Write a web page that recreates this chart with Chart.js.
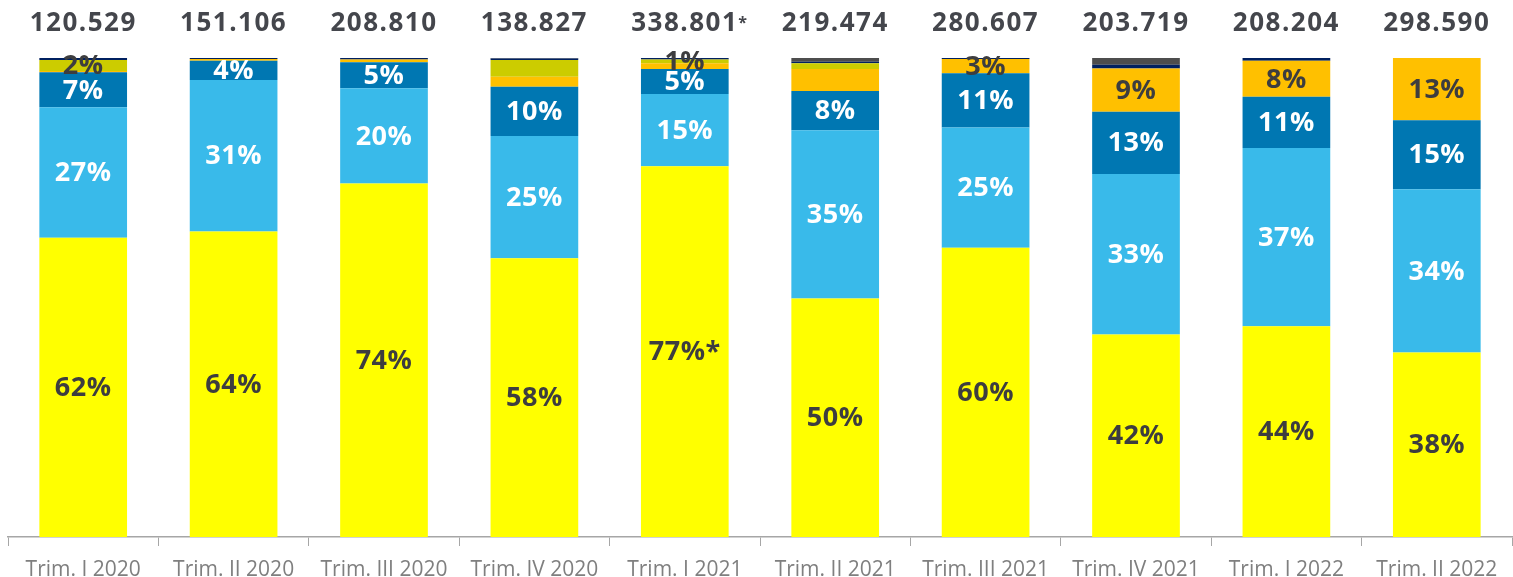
<!DOCTYPE html>
<html>
<head>
<meta charset="utf-8">
<script src="https://cdn.jsdelivr.net/npm/chart.js@4/dist/chart.umd.min.js"></script>
<style>
  body { margin: 0; background: #fff; }
</style>
</head>
<body>
<canvas id="myChart" width="1513" height="577"></canvas>
<script>
// quarters and totals shown above each bar
const quarters = ["Trim. I 2020", "Trim. II 2020", "Trim. III 2020", "Trim. IV 2020", "Trim. I 2021",
  "Trim. II 2021", "Trim. III 2021", "Trim. IV 2021", "Trim. I 2022", "Trim. II 2022"];
const totals = ["120.529", "151.106", "208.810", "138.827", "338.801", "219.474", "280.607", "203.719", "208.204", "298.590"];
const totalMarks = ["", "", "", "", "*", "", "", "", "", ""];

// shares (%) per segment, bottom to top
const yellowVals = [62.5, 63.8, 73.8, 58.2, 77.4, 49.8, 60.4, 42.3, 44.0, 38.5];
const lightBlueVals = [27.2, 31.6, 19.9, 25.5, 15.1, 35.1, 25.1, 33.5, 37.2, 34.1];
const darkBlueVals = [7.3, 4.0, 5.4, 10.3, 5.2, 8.2, 11.3, 13.0, 10.7, 14.4];
const orangeVals = [0.3, 0.4, 0.6, 2.1, 1.2, 4.6, 3.0, 9.0, 7.5, 13.0];
const oliveVals = [2.3, 0, 0, 3.5, 0.8, 1.2, 0, 0, 0, 0];
const navyVals = [0.4, 0.2, 0.3, 0.3, 0.3, 0.3, 0.2, 0.8, 0.6, 0];
const greyVals = [0, 0, 0, 0.1, 0, 0.8, 0, 1.4, 0, 0];

// labels printed on the segments
const yellowLabels = ["62%", "64%", "74%", "58%", "77%*", "50%", "60%", "42%", "44%", "38%"];
const lightBlueLabels = ["27%", "31%", "20%", "25%", "15%", "35%", "25%", "33%", "37%", "34%"];
const darkBlueLabels = ["7%", "4%", "5%", "10%", "5%", "8%", "11%", "13%", "11%", "15%"];
const orangeLabels = [null, null, null, null, null, null, "3%", "9%", "8%", "13%"];
const oliveLabels = ["2%", null, null, null, "1%", null, null, null, null, null];

const FONT = "'Open Sans', sans-serif";
const DARK = "#3d3d3f";

const segLabels = {
  0: { text: yellowLabels, color: DARK },
  1: { text: lightBlueLabels, color: "#ffffff" },
  2: { text: darkBlueLabels, color: "#ffffff" },
  3: { text: orangeLabels, color: DARK },
  4: { text: oliveLabels, color: DARK },
};

const labelPlugin = {
  id: "segLabels",
  afterDatasetsDraw(chart) {
    const ctx = chart.ctx;
    ctx.save();
    ctx.textAlign = "center";
    ctx.textBaseline = "middle";
    ctx.font = "bold 27px " + FONT;
    ctx.letterSpacing = "0.5px";
    Object.keys(segLabels).forEach((i) => {
      const meta = chart.getDatasetMeta(+i);
      const cfg = segLabels[i];
      meta.data.forEach((bar, j) => {
        const t = cfg.text[j];
        if (!t) return;
        const y = (bar.y + bar.base) / 2;
        ctx.fillStyle = cfg.color;
        ctx.fillText(t, bar.x, y + 1);
      });
    });
    // totals on top
    const meta0 = chart.getDatasetMeta(0);
    ctx.letterSpacing = "1.5px";
    meta0.data.forEach((bar, j) => {
      ctx.font = "bold 26px " + FONT;
      ctx.fillStyle = "#44464c";
      ctx.textAlign = "center";
      ctx.fillText(totals[j], bar.x, 24);
      if (totalMarks[j]) {
        const w = ctx.measureText(totals[j]).width;
        ctx.font = "bold 16px " + FONT;
        ctx.textAlign = "left";
        ctx.fillText(totalMarks[j], bar.x + w / 2, 23);
      }
    });
    ctx.restore();
  },
};

new Chart("myChart", {
  type: "bar",
  data: {
    labels: quarters,
    datasets: [
      { data: yellowVals, backgroundColor: "#ffff00" },
      { data: lightBlueVals, backgroundColor: "#39baea" },
      { data: darkBlueVals, backgroundColor: "#0077b2" },
      { data: orangeVals, backgroundColor: "#ffc000" },
      { data: oliveVals, backgroundColor: "#cccc00" },
      { data: navyVals, backgroundColor: "#002060" },
      { data: greyVals, backgroundColor: "#4d4d4d" },
    ],
  },
  options: {
    responsive: false,
    animation: false,
    layout: { padding: { top: 58, left: 8, right: 1, bottom: -18 } },
    datasets: { bar: { categoryPercentage: 1, barPercentage: 0.583, borderWidth: 0 } },
    plugins: { legend: { display: false }, tooltip: { enabled: false } },
    scales: {
      x: {
        stacked: true,
        grid: { display: true, drawOnChartArea: false, tickLength: 9, color: "#a6a6a6", offset: true },
        border: { display: true, color: "#a6a6a6", width: 1.5 },
        ticks: { color: "#7f7f7f", font: { family: FONT, size: 21, lineHeight: 1 }, padding: 14, maxRotation: 0 },
      },
      y: { stacked: true, display: false, min: 0, max: 100 },
    },
  },
  plugins: [labelPlugin],
});
</script>
</body>
</html>
